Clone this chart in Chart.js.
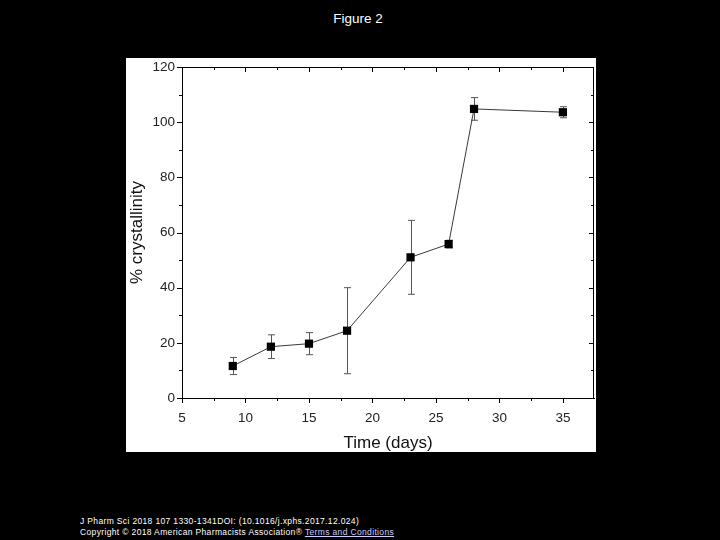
<!DOCTYPE html>
<html>
<head>
<meta charset="utf-8">
<script src="https://cdn.jsdelivr.net/npm/chart.js@4.4.1/dist/chart.umd.min.js"></script>
<style>
    html, body { margin: 0; padding: 0; background: #000; }
    body { width: 720px; height: 540px; position: relative; overflow: hidden; font-family: "Liberation Sans", Arial, sans-serif; }
    #figTitle { position: absolute; top: 11px; left: 0; width: 716px; text-align: center; color: #fff; font-size: 13.5px; }
    #panel { position: absolute; left: 126px; top: 58px; width: 470px; height: 394px; background: #fff; }
    #footer { position: absolute; left: 80px; top: 516px; color: #fff; font-size: 8.5px; letter-spacing: 0.35px; line-height: 11px; }
    #footer a { color: #ccccff; text-decoration: underline; }
</style>
</head>
<body>
<div id="figTitle">Figure 2</div>
<div id="panel"><canvas id="crystChart" width="470" height="394"></canvas></div>
<div id="footer">
    J Pharm Sci 2018 107 1330-1341DOI: (10.1016/j.xphs.2017.12.024)<br>
    Copyright © 2018 American Pharmacists Association® <a>Terms and Conditions</a>
</div>
<script>
// ===== DATA =====
const timeDays = [9, 12, 15, 18, 23, 26, 28, 35];
const crystallinity = [11.6, 18.6, 19.7, 24.4, 51.0, 55.8, 104.8, 103.6];
const errorBars = [3.1, 4.3, 4.0, 15.6, 13.4, 1.4, 4.1, 2.0];
const xTicks = [5, 10, 15, 20, 25, 30, 35];
const yTicks = [0, 20, 40, 60, 80, 100, 120];
const xTitle = 'Time (days)';
const yTitle = '% crystallinity';

const FONT = '"Liberation Sans", Arial, sans-serif';

// Error bars, drawn under the line and markers
const errorBarPlugin = {
    id: 'errorBars',
    beforeDatasetsDraw(chart) {
        const ctx = chart.ctx;
        const xs = chart.scales.x, ys = chart.scales.y;
        ctx.save();
        ctx.strokeStyle = '#555';
        ctx.lineWidth = 1;
        timeDays.forEach((t, i) => {
            const px = Math.round(xs.getPixelForValue(t)) + 0.5;
            const top = ys.getPixelForValue(crystallinity[i] + errorBars[i]);
            const bot = ys.getPixelForValue(crystallinity[i] - errorBars[i]);
            ctx.beginPath();
            ctx.moveTo(px, top); ctx.lineTo(px, bot);
            ctx.moveTo(px - 3.5, top); ctx.lineTo(px + 3.5, top);
            ctx.moveTo(px - 3.5, bot); ctx.lineTo(px + 3.5, bot);
            ctx.stroke();
        });
        ctx.restore();
    }
};

// Frame on top/right, major + minor tick marks, axis titles
const framePlugin = {
    id: 'frame',
    afterDraw(chart) {
        const ctx = chart.ctx;
        const a = chart.chartArea;
        const xs = chart.scales.x, ys = chart.scales.y;
        ctx.save();
        ctx.strokeStyle = '#000';
        ctx.lineWidth = 1;
        ctx.beginPath();
        ctx.moveTo(a.left, a.top + 0.5); ctx.lineTo(a.right, a.top + 0.5);
        ctx.moveTo(a.right - 0.5, a.top); ctx.lineTo(a.right - 0.5, a.bottom);
        ctx.stroke();

        ctx.beginPath();
        for (let v = 5; v <= 37.4; v += 2.5) {
            const px = Math.round(xs.getPixelForValue(v)) + 0.5;
            const len = (v % 5 === 0) ? 5 : 3;
            ctx.moveTo(px, a.bottom); ctx.lineTo(px, a.bottom + len);
            ctx.moveTo(px, a.top); ctx.lineTo(px, a.top + len);
        }
        for (let v = 0; v <= 120; v += 10) {
            const py = Math.round(ys.getPixelForValue(v)) + 0.5;
            const len = (v % 20 === 0) ? 5 : 3;
            ctx.moveTo(a.left, py); ctx.lineTo(a.left - len, py);
            ctx.moveTo(a.right, py); ctx.lineTo(a.right - len, py);
        }
        ctx.stroke();

        // axis titles
        ctx.fillStyle = '#111';
        ctx.font = '17px ' + FONT;
        ctx.textAlign = 'center';
        ctx.textBaseline = 'middle';
        ctx.fillText(xTitle, (a.left + a.right) / 2, a.bottom + 45);
        ctx.translate(11, (a.top + a.bottom) / 2);
        ctx.rotate(-Math.PI / 2);
        ctx.fillText(yTitle, 0, 0);
        ctx.restore();
    }
};

function fixPadding(scale) {
    scale.paddingTop = 0;
    scale.paddingBottom = 0;
    scale.paddingLeft = 0;
    scale.paddingRight = 0;
}

document.addEventListener('DOMContentLoaded', function() {
    const ctx = document.getElementById('crystChart');
    new Chart(ctx, {
        type: 'scatter',
        data: {
            datasets: [{
                data: timeDays.map((t, i) => ({ x: t, y: crystallinity[i] })),
                showLine: true,
                borderColor: '#3a3a3a',
                borderWidth: 1,
                pointStyle: 'rect',
                pointRadius: 5.8,
                pointHoverRadius: 5.8,
                pointBackgroundColor: '#000',
                pointBorderColor: '#000',
                pointBorderWidth: 0
            }]
        },
        options: {
            responsive: false,
            animation: false,
            layout: { autoPadding: false, padding: { top: 9, right: 2, left: 0, bottom: 0 } },
            plugins: { legend: { display: false }, tooltip: { enabled: false } },
            scales: {
                x: {
                    type: 'linear',
                    min: 5,
                    max: 37.45,
                    afterBuildTicks: scale => { scale.ticks = xTicks.map(v => ({ value: v })); },
                    afterFit: scale => { scale.height = 54; fixPadding(scale); },
                    grid: { display: false, drawTicks: false },
                    border: { display: true, color: '#000', width: 1 },
                    ticks: { color: '#222', padding: 12, font: { family: FONT, size: 13.5 } }
                },
                y: {
                    min: 0,
                    max: 120,
                    afterBuildTicks: scale => { scale.ticks = yTicks.map(v => ({ value: v })); },
                    afterFit: scale => { scale.width = 56; fixPadding(scale); },
                    grid: { display: false, drawTicks: false },
                    border: { display: true, color: '#000', width: 1 },
                    ticks: { color: '#222', padding: 7, font: { family: FONT, size: 13.5 } }
                }
            }
        },
        plugins: [errorBarPlugin, framePlugin]
    });
});
</script>
</body>
</html>
